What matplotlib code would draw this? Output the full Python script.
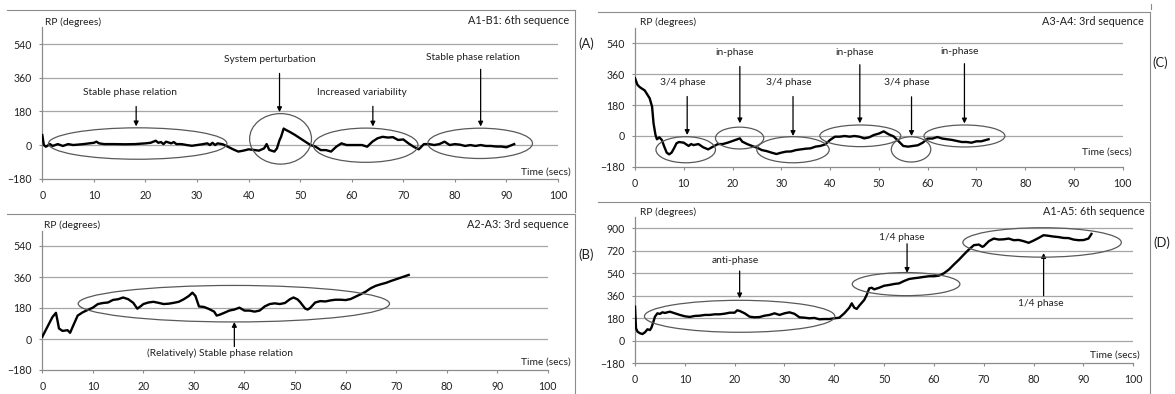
import matplotlib
matplotlib.use("Agg")
import matplotlib.pyplot as plt
from matplotlib.patches import Ellipse
from matplotlib.lines import Line2D

plt.rcParams['font.family'] = ['Lato', 'DejaVu Sans']

# ---------------- data ----------------
t_A = [0, 0.3, 0.7, 1.5, 2, 3, 4, 5, 6, 8, 10, 10.5, 11, 12, 14, 16, 18, 20, 21, 22,
       22.5, 23, 23.5, 24, 25, 25.5, 26, 27, 28, 29, 30, 31, 32, 32.5, 33, 33.5, 34, 35, 36, 37,
       38, 39, 40, 41, 42, 43, 43.5, 44, 45, 45.5, 46, 46.3, 46.8, 47.3, 48, 49, 50, 51, 52, 53,
       54, 55, 56, 57, 58, 59, 60, 61, 62, 63, 64, 65, 66, 67, 68, 69, 70, 71, 72, 73,
       74, 75, 76, 77, 78, 79, 80, 81, 82, 83, 84, 85, 86, 87, 88, 89, 90, 91.5]
rp_A = [53, 0, -9, 5, -5, 5, -5, 5, 0, 5, 12, 18, 9, 5, 5, 4, 5, 9, 12, 23,
        12, 16, 5, 18, 9, 16, 5, 5, 0, -4, 0, 4, 9, 0, 12, 0, 9, 4, -9, -23,
        -35, -30, -23, -26, -30, -18, 5, -26, -35, -18, 26, 44, 88, 80, 70, 54, 36, 18, 0, -9,
        -27, -27, -35, -9, 9, 0, 0, 0, 0, -9, 18, 36, 44, 40, 42, 27, 30, 9, -9, -23,
        5, 5, 0, 5, 18, 0, 5, 2, -5, 0, -5, 0, -5, -5, -8, -8, -12, 5]

t_B = [0, 1, 2, 2.7, 3, 3.3, 4, 5, 5.5, 6, 7, 8, 9, 10, 11, 12, 13, 14, 15, 16,
       17, 18, 18.8, 19.5, 20, 21, 22, 23, 24, 25, 26, 27, 28, 29, 29.7, 30.3, 31, 32, 33, 34,
       34.5, 35, 36, 37, 38, 39, 40, 41, 42, 43, 44, 45, 46, 47, 48, 49, 49.7, 50.5, 51, 52,
       52.5, 53, 54, 55, 56, 57, 58, 59, 60, 61, 62, 63, 64, 65, 66, 67, 68, 69, 70, 71, 72.5]
rp_B = [13, 70, 127, 152, 108, 61, 47, 51, 36, 70, 136, 155, 169, 182, 203, 209, 212, 227, 231, 241,
        231, 210, 176, 191, 203, 212, 216, 210, 203, 205, 210, 216, 231, 250, 269, 250, 189, 186, 174, 159,
        136, 140, 152, 165, 171, 182, 165, 165, 159, 165, 189, 203, 207, 203, 209, 231, 241, 230, 215, 177,
        171, 180, 212, 220, 218, 224, 228, 228, 226, 232, 246, 260, 275, 295, 309, 318, 326, 337, 347, 357, 372]

t_C = [0, 0.5, 1, 2, 3, 3.5, 3.8, 4.2, 4.5, 5, 5.5, 6, 6.5, 7, 7.5, 8, 8.5, 9, 10, 11,
       11.5, 12, 13, 14, 15, 16, 17, 18, 19, 20, 21, 21.5, 22, 23, 24, 25, 26, 27, 28, 29,
       30, 31, 32, 33, 34, 35, 36, 37, 38, 39, 40, 41, 42, 43, 44, 45, 46, 47, 48, 49,
       50, 51, 52, 53, 54, 55, 56, 57, 58, 59, 60, 61, 62, 63, 64, 65, 66, 67, 68, 69,
       70, 71, 72.5]
rp_C = [337, 298, 284, 265, 220, 171, 74, 6, -19, -8, -23, -62, -97, -107, -97, -72, -43, -35, -39, -58,
        -47, -53, -47, -66, -78, -62, -47, -47, -39, -29, -19, -14, -33, -47, -58, -68, -82, -88, -97, -105,
        -97, -91, -90, -82, -78, -74, -72, -62, -58, -49, -23, -4, -4, 0, -4, 0, -4, -14, -8, 6,
        14, 27, 10, -2, -29, -58, -62, -58, -54, -39, -15, -15, -6, -15, -19, -23, -29, -35, -35, -39,
        -31, -31, -19]

t_D = [0, 0.2, 0.5, 1, 1.5, 2, 2.5, 3, 3.3, 3.7, 4, 4.5, 5, 5.5, 6, 7, 8, 9, 10, 11,
       12, 13, 14, 15, 16, 17, 18, 19, 20, 20.5, 21, 22, 23, 24, 25, 26, 27, 28, 29, 30,
       31, 32, 33, 34, 35, 36, 37, 38, 39, 40, 41, 42, 43, 43.5, 44, 44.5, 45, 46, 46.5, 47,
       47.5, 48, 49, 50, 51, 52, 53, 54, 55, 56, 57, 58, 59, 60, 61, 62, 63, 64, 65, 66,
       67, 68, 69, 69.7, 70, 71, 72, 73, 74, 75, 76, 77, 78, 79, 80, 81, 82, 83, 84, 85,
       86, 87, 88, 89, 90, 91, 91.6]
rp_D = [272, 99, 72, 59, 53, 67, 91, 85, 104, 152, 192, 219, 214, 227, 222, 232, 219, 206, 195, 190,
        198, 200, 206, 206, 211, 211, 216, 224, 224, 243, 238, 219, 192, 187, 189, 200, 206, 219, 206, 219,
        227, 215, 187, 184, 179, 182, 171, 173, 173, 179, 184, 219, 264, 299, 264, 254, 280, 326, 366, 419,
        424, 411, 424, 440, 446, 454, 459, 478, 494, 500, 505, 511, 516, 516, 521, 540, 570, 610, 648, 690,
        730, 765, 770, 752, 757, 797, 818, 810, 812, 818, 805, 807, 797, 784, 802, 823, 845, 840, 834, 830,
        823, 822, 810, 805, 806, 818, 855]

x_ticks = [0, 10, 20, 30, 40, 50, 60, 70, 80, 90, 100]
y_ticks_std = [-180, 0, 180, 360, 540]
y_ticks_D = [-180, 0, 180, 360, 540, 720, 900]

titles = ["A1-B1: 6th sequence", "A2-A3: 3rd sequence", "A3-A4: 3rd sequence", "A1-A5: 6th sequence"]
panel_tags = ["(A)", "(B)", "(C)", "(D)"]

# ellipses (cx, cy, w, h)
ell_A = [(18.5, 8, 34.6, 168), (46.2, 33, 12, 270), (62.7, -1, 20.3, 183), (84.9, 9, 20.3, 162)]
ell_B = [(37.9, 205, 61.6, 212)]
ell_C = [(10.4, -80, 12.2, 152), (21.45, -12, 9.9, 127), (32.4, -80, 14.85, 152),
         (46.2, 1, 16.6, 126), (56.6, -78, 8.1, 147), (67.55, 0, 16.6, 128)]
ell_D = [(21, 195, 38.2, 256), (54.4, 453, 21.6, 185), (81.7, 787, 31.8, 236)]

# annotations: (text, text_x, text_y, arrow_x, tail_y, head_y)
ann_A = [("Stable phase relation", 17.1, 282, 18.2, 206, 100),
         ("System perturbation", 44.1, 455, 46.0, 383, 176),
         ("Increased variability", 62.0, 279, 64.1, 207, 99),
         ("Stable phase relation", 83.6, 468, 85.0, 405, 99)]
ann_B = [("(Relatively) Stable phase relation", 35.2, -81, 38.0, -44, 99)]
ann_C = [("3/4 phase", 9.9, 311, 10.7, 230, 6),
         ("in-phase", 20.4, 488, 21.5, 405, 74),
         ("3/4 phase", 31.5, 311, 32.4, 230, 0),
         ("in-phase", 45.0, 488, 46.1, 415, 74),
         ("3/4 phase", 55.8, 314, 56.7, 228, 0),
         ("in-phase", 66.6, 490, 67.55, 421, 73)]
ann_D = [("anti-phase", 20.1, 646, 21.0, 558, 339),
         ("1/4 phase", 53.5, 829, 54.6, 776, 543),
         ("1/4 phase", 81.4, 299, 82.0, 360, 702)]

# ---------------- figure ----------------
W, H = 1175, 394
fig = plt.figure(figsize=(W / 100, H / 100), dpi=100)
fig.patch.set_facecolor('white')

TXT = '#202020'
GRID = '#a6a6a6'
AX = '#8c8c8c'
FS = 7.6


def px_axes(x0, x1, ybot, ytop):
    return fig.add_axes([x0 / W, 1 - ybot / H, (x1 - x0) / W, (ybot - ytop) / H])


def setup(ax, ymax, yticks):
    ax.set_xlim(0, 100)
    ax.set_ylim(-180, ymax)
    ax.set_xticks(x_ticks)
    ax.set_yticks(yticks)
    for s in ['top', 'right']:
        ax.spines[s].set_visible(False)
    for s in ['left', 'bottom']:
        ax.spines[s].set_color(AX)
        ax.spines[s].set_linewidth(0.9)
    for y in yticks[1:]:
        ax.axhline(y, color=GRID, lw=0.9, zorder=0)
    ax.tick_params(axis='x', direction='out', length=2.5, width=0.8, color=AX,
                   labelsize=FS, labelcolor=TXT, pad=5.5)
    ax.tick_params(axis='y', direction='out', length=2.5, width=0.8, color=AX,
                   labelsize=FS, labelcolor=TXT, pad=5)
    ax.patch.set_alpha(0)


def draw(ax, t, rp, ells, anns):
    ax.plot(t, rp, color='black', lw=1.7, zorder=3, solid_joinstyle='round')
    for cx, cy, w, h in ells:
        ax.add_patch(Ellipse((cx, cy), w, h, fill=False, ec='#595959', lw=0.9, zorder=4,
                             clip_on=False))
    for txt, tx, ty, ax_x, tail, head in anns:
        ax.text(tx, ty, txt, fontsize=FS - 0.2, color=TXT, ha='center', va='center')
        ax.annotate('', xy=(ax_x, head), xytext=(ax_x, tail),
                    arrowprops=dict(arrowstyle='-|>', color='black', lw=0.9,
                                    mutation_scale=7, shrinkA=0, shrinkB=0))


axA = px_axes(42.3, 558, 178.7, 27.2)
setup(axA, 630, y_ticks_std)
draw(axA, t_A, rp_A, ell_A, ann_A)

axB = px_axes(42.3, 547.7, 370, 230.5)
setup(axB, 630, y_ticks_std)
draw(axB, t_B, rp_B, ell_B, ann_B)

axC = px_axes(635, 1122.7, 166.9, 27.8)
setup(axC, 630, y_ticks_std)
draw(axC, t_C, rp_C, ell_C, ann_C)

axD = px_axes(635, 1133.3, 363.1, 217.1)
setup(axD, 990, y_ticks_D)
draw(axD, t_D, rp_D, ell_D, ann_D)


def ftext(x, y, s, ha='left', size=FS):
    fig.text(x / W, 1 - y / H, s, ha=ha, va='center', fontsize=size, color=TXT)


# RP labels
for (x, y) in [(45, 22), (44, 225), (640, 22.5), (640, 212)]:
    ftext(x, y, "RP (degrees)", size=FS - 0.2)
# Time labels
for (x, y) in [(571, 172.5), (571, 362.5), (1132, 152.5), (1140, 355)]:
    ftext(x, y, "Time (secs)", ha='right', size=FS - 0.2)
# titles
for (x, y), s in zip([(569, 21), (569, 224), (1144, 21.5), (1145, 212)], titles):
    ftext(x, y, s, ha='right', size=FS + 0.2)
# panel tags
for (x, y), s in zip([(578, 43.5), (578, 254.5), (1152.5, 63), (1153.5, 243)], panel_tags):
    ftext(x, y, s, size=FS + 1.8)

# frame fragments
FR = '#8c8c8c'
segs = [((7, 575), (10, 10)), ((575, 575), (10, 212)),
        ((7, 575), (214, 214)), ((575, 575), (214, 394)),
        ((598, 1150), (12, 12)), ((1150, 1150), (12, 200)),
        ((598, 1150), (202, 202)), ((1150, 1150), (202, 394)),
        ((1151, 1151), (4, 9))]
for xs, ys in segs:
    fig.add_artist(Line2D([x / W for x in xs], [1 - y / H for y in ys],
                          color=FR, lw=0.8, transform=fig.transFigure))

fig.savefig("out.png", dpi=100)
